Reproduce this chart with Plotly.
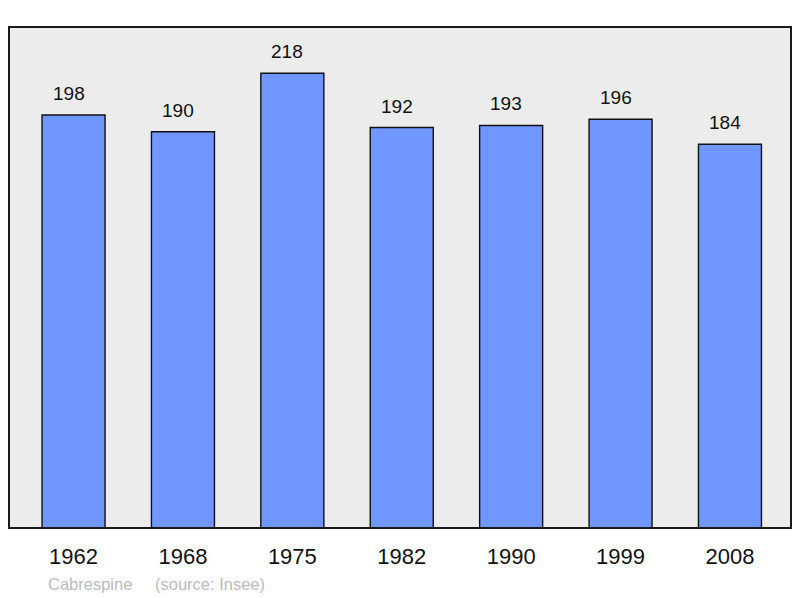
import plotly.graph_objects as go

years = ["1962", "1968", "1975", "1982", "1990", "1999", "2008"]
population = [198, 190, 218, 192, 193, 196, 184]
caption_name = "Cabrespine"
caption_source = "(source: Insee)"

xs = list(range(len(years)))

# page body has an 8px default margin; compensate so the plot lands where the reference has it
OFF = 8
W, H = 800 - OFF, 598 - OFF
L, R, T, B = 9 - OFF, 9, 27 - OFF, 70
PW = W - L - R

def px(p):
    return (p - OFF - L) / PW

fig = go.Figure()
fig.add_trace(go.Bar(
    x=xs, y=population, width=0.576,
    marker=dict(color="#7096ff", line=dict(color="#111111", width=1.4)),
    hoverinfo="skip",
))

for xi, v in zip(xs, population):
    fig.add_annotation(x=xi, y=v, text=str(v), showarrow=False,
                       xref="x", yref="y", yanchor="bottom", yshift=9, xshift=-5,
                       font=dict(family="Liberation Sans, Arial", size=19, color="#111111"))

fig.add_annotation(x=px(46), y=-0.112, xref="paper", yref="paper", xanchor="left", yanchor="middle",
                   text=caption_name, showarrow=False,
                   font=dict(family="Liberation Sans, Arial", size=16.5, color="#bbbbbb"))
fig.add_annotation(x=px(153), y=-0.112, xref="paper", yref="paper", xanchor="left", yanchor="middle",
                   text=caption_source, showarrow=False,
                   font=dict(family="Liberation Sans, Arial", size=16.5, color="#bbbbbb"))

fig.add_shape(type="rect", xref="paper", yref="paper", x0=0, y0=0, x1=1, y1=1,
              line=dict(color="#1a1a1a", width=2), layer="above")

fig.update_layout(
    width=W, height=H,
    margin=dict(l=L, r=R, t=T, b=B, pad=0),
    paper_bgcolor="white", plot_bgcolor="#ececec",
    showlegend=False,
    xaxis=dict(range=[-0.59, 6.558], tickvals=xs, ticktext=years,
               showgrid=False, zeroline=False, ticks="outside", ticklen=9,
               tickcolor="rgba(0,0,0,0)",
               tickfont=dict(family="Liberation Sans, Arial", size=22, color="#111111")),
    yaxis=dict(range=[0, 240.2], visible=False, showgrid=False),
)

fig.write_html("out.html")
